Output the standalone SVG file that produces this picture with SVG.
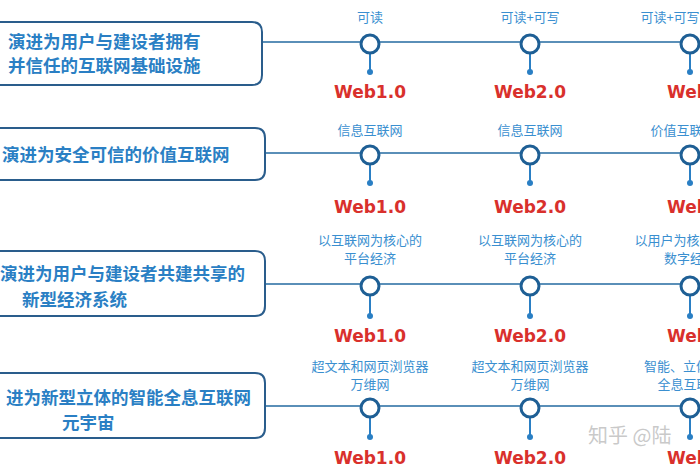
<svg xmlns="http://www.w3.org/2000/svg" width="700" height="470" viewBox="0 0 700 470">
<style>
.box{fill:#fff;stroke:#2a5d8c;stroke-width:2}
.t{font-family:"Noto Sans CJK SC",sans-serif;font-size:17.5px;font-weight:bold;fill:#2a7fc4}
.lb{font-family:"Noto Sans CJK SC",sans-serif;font-size:13px;fill:#3a8fd0;text-anchor:middle}
.w{font-family:"DejaVu Sans",sans-serif;font-size:17px;font-weight:bold;fill:#d9302c;text-anchor:middle}
.ln{stroke:#5a8fb8;stroke-width:2;fill:none}
.c{fill:#fff;stroke:#1e5f95;stroke-width:3}
.s{stroke:#2a7fc4;stroke-width:2}
.d{fill:#2a7fc4}
</style>
<rect width="700" height="470" fill="#fff"/>
<g id="connectors">
<line class="ln" x1="262" y1="42" x2="700" y2="42"/>
<line class="ln" x1="265" y1="153" x2="700" y2="153"/>
<line class="ln" x1="265" y1="284" x2="700" y2="284"/>
<line class="ln" x1="265" y1="406" x2="700" y2="406"/>
</g>
<g id="row1">
<path class="box" d="M-20 22 H252 Q262 22 262 32 V75 Q262 85 252 85 H-20 Q-30 53 -20 22Z"/>
<text class="t" x="8" y="48">演进为用户与建设者拥有</text>
<text class="t" x="8" y="72">并信任的互联网基础设施</text>
</g>
<g id="row2">
<path class="box" d="M-20 128 H255 Q265 128 265 138 V170 Q265 180 255 180 H-20Z"/>
<text class="t" x="2" y="161">演进为安全可信的价值互联网</text>
</g>
<g id="row3">
<path class="box" d="M-20 251 H255 Q265 251 265 261 V306 Q265 316 255 316 H-20Z"/>
<text class="t" x="0" y="280">演进为用户与建设者共建共享的</text>
<text class="t" x="22" y="306">新型经济系统</text>
</g>
<g id="row4">
<path class="box" d="M-20 373 H255 Q265 373 265 383 V428 Q265 438 255 438 H-20Z"/>
<text class="t" x="6" y="404">进为新型立体的智能全息互联网</text>
<text class="t" x="62" y="429">元宇宙</text>
</g>
<g id="nodes">
<g id="n11"><line class="s" x1="370" y1="53" x2="370" y2="72"/><circle class="d" cx="370" cy="72" r="3"/><circle class="c" cx="370" cy="44" r="9"/><text class="lb" x="370" y="22">可读</text><text class="w" x="370" y="98">Web1.0</text></g>
<g id="n12"><line class="s" x1="530" y1="53" x2="530" y2="72"/><circle class="d" cx="530" cy="72" r="3"/><circle class="c" cx="530" cy="44" r="9"/><text class="lb" x="530" y="22">可读+可写</text><text class="w" x="530" y="98">Web2.0</text></g>
<g id="n13"><line class="s" x1="690" y1="53" x2="690" y2="72"/><circle class="d" cx="690" cy="72" r="3"/><circle class="c" cx="690" cy="44" r="9"/><text class="lb" x="670" y="22">可读+可写</text><text class="w" x="703" y="98">Web3.0</text></g>

<g id="n21"><line class="s" x1="370" y1="164" x2="370" y2="183"/><circle class="d" cx="370" cy="183" r="3"/><circle class="c" cx="370" cy="155" r="9"/><text class="lb" x="370" y="135">信息互联网</text><text class="w" x="370" y="213">Web1.0</text></g>
<g id="n22"><line class="s" x1="530" y1="164" x2="530" y2="183"/><circle class="d" cx="530" cy="183" r="3"/><circle class="c" cx="530" cy="155" r="9"/><text class="lb" x="530" y="135">信息互联网</text><text class="w" x="530" y="213">Web2.0</text></g>
<g id="n23"><line class="s" x1="690" y1="164" x2="690" y2="183"/><circle class="d" cx="690" cy="183" r="3"/><circle class="c" cx="690" cy="155" r="9"/><text class="lb" x="683" y="135">价值互联网</text><text class="w" x="703" y="213">Web3.0</text></g>

<g id="n31"><line class="s" x1="370" y1="295" x2="370" y2="316"/><circle class="d" cx="370" cy="316" r="3"/><circle class="c" cx="370" cy="286" r="9"/><text class="lb" x="370" y="245">以互联网为核心的</text><text class="lb" x="370" y="263">平台经济</text><text class="w" x="370" y="342">Web1.0</text></g>
<g id="n32"><line class="s" x1="530" y1="295" x2="530" y2="316"/><circle class="d" cx="530" cy="316" r="3"/><circle class="c" cx="530" cy="286" r="9"/><text class="lb" x="530" y="245">以互联网为核心的</text><text class="lb" x="530" y="263">平台经济</text><text class="w" x="530" y="342">Web2.0</text></g>
<g id="n33"><line class="s" x1="690" y1="295" x2="690" y2="316"/><circle class="d" cx="690" cy="316" r="3"/><circle class="c" cx="690" cy="286" r="9"/><text class="lb" x="680" y="245">以用户为核心的</text><text class="lb" x="690" y="263">数字经济</text><text class="w" x="703" y="342">Web3.0</text></g>

<g id="n41"><line class="s" x1="370" y1="417" x2="370" y2="437"/><circle class="d" cx="370" cy="437" r="3"/><circle class="c" cx="370" cy="408" r="9"/><text class="lb" x="370" y="371">超文本和网页浏览器</text><text class="lb" x="370" y="389">万维网</text><text class="w" x="370" y="464">Web1.0</text></g>
<g id="n42"><line class="s" x1="530" y1="417" x2="530" y2="437"/><circle class="d" cx="530" cy="437" r="3"/><circle class="c" cx="530" cy="408" r="9"/><text class="lb" x="530" y="371">超文本和网页浏览器</text><text class="lb" x="530" y="389">万维网</text><text class="w" x="530" y="464">Web2.0</text></g>
<g id="n43"><line class="s" x1="690" y1="417" x2="690" y2="437"/><circle class="d" cx="690" cy="437" r="3"/><circle class="c" cx="690" cy="408" r="9"/><text class="lb" x="683" y="371">智能、立体、</text><text class="lb" x="690" y="389">全息互联网</text><text class="w" x="703" y="464">Web3.0</text></g>
</g>
<text x="588" y="443" font-family="Noto Sans CJK SC,sans-serif" font-size="20" fill="#bbb" fill-opacity="0.8">知乎 @陆</text>
</svg>
